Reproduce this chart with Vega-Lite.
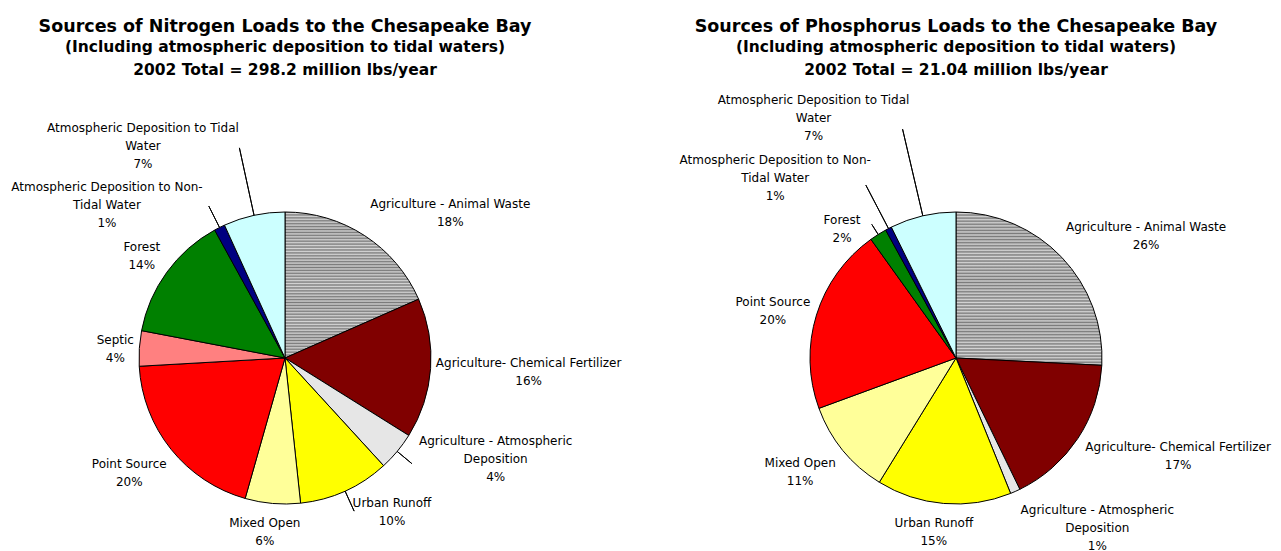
{
  "$schema": "https://vega.github.io/schema/vega-lite/v6.json",
  "background": "white",
  "padding": {"left": 5, "top": 18, "right": 5, "bottom": 5},
  "bounds": "flush",
  "spacing": 111,
  "datasets": {
    "nitrogen": [
      {"i": 1, "source": "Agriculture - Animal Waste", "pct": 18.4, "label": "Agriculture - Animal Waste\n18%"},
      {"i": 2, "source": "Agriculture- Chemical Fertilizer", "pct": 15.5, "label": "Agriculture- Chemical Fertilizer\n16%"},
      {"i": 3, "source": "Agriculture - Atmospheric Deposition", "pct": 4.3, "label": "Agriculture - Atmospheric\nDeposition\n4%"},
      {"i": 4, "source": "Urban Runoff", "pct": 10.1, "label": "Urban Runoff\n10%"},
      {"i": 5, "source": "Mixed Open", "pct": 6.1, "label": "Mixed Open\n6%"},
      {"i": 6, "source": "Point Source", "pct": 19.7, "label": "Point Source\n20%"},
      {"i": 7, "source": "Septic", "pct": 3.9, "label": "Septic\n4%"},
      {"i": 8, "source": "Forest", "pct": 14.0, "label": "Forest\n14%"},
      {"i": 9, "source": "Atmospheric Deposition to Non-Tidal Water", "pct": 1.2, "label": "Atmospheric Deposition to Non-\nTidal Water\n1%"},
      {"i": 10, "source": "Atmospheric Deposition to Tidal Water", "pct": 6.8, "label": "Atmospheric Deposition to Tidal\nWater\n7%"}
    ],
    "phosphorus": [
      {"i": 1, "source": "Agriculture - Animal Waste", "pct": 25.8, "label": "Agriculture - Animal Waste\n26%"},
      {"i": 2, "source": "Agriculture- Chemical Fertilizer", "pct": 17.0, "label": "Agriculture- Chemical Fertilizer\n17%"},
      {"i": 3, "source": "Agriculture - Atmospheric Deposition", "pct": 1.1, "label": "Agriculture - Atmospheric\nDeposition\n1%"},
      {"i": 4, "source": "Urban Runoff", "pct": 14.9, "label": "Urban Runoff\n15%"},
      {"i": 5, "source": "Mixed Open", "pct": 10.6, "label": "Mixed Open\n11%"},
      {"i": 6, "source": "Point Source", "pct": 20.7, "label": "Point Source\n20%"},
      {"i": 8, "source": "Forest", "pct": 1.9, "label": "Forest\n2%"},
      {"i": 9, "source": "Atmospheric Deposition to Non-Tidal Water", "pct": 0.7, "label": "Atmospheric Deposition to Non-\nTidal Water\n1%"},
      {"i": 10, "source": "Atmospheric Deposition to Tidal Water", "pct": 7.3, "label": "Atmospheric Deposition to Tidal\nWater\n7%"}
    ]
  },
  "config": {
    "view": {"stroke": null},
    "title": {
      "font": "DejaVu Sans", "fontWeight": "bold", "fontSize": 17.5, "color": "black",
      "subtitleFont": "DejaVu Sans", "subtitleFontWeight": "bold", "subtitleFontSize": 15.5, "subtitleColor": "black",
      "subtitleLineHeight": 23, "subtitlePadding": 4, "anchor": "middle", "offset": 10
    },
    "text": {"font": "DejaVu Sans", "fontSize": 12, "color": "black", "lineBreak": "\n", "lineHeight": 18, "align": "center", "baseline": "middle"}
  },
  "hconcat": [
    {
      "width": 560, "height": 540,
      "title": {"text": "Sources of Nitrogen Loads to the Chesapeake Bay", "subtitle": ["(Including atmospheric deposition to tidal waters)", "2002 Total = 298.2 million lbs/year"]},
      "data": {"name": "nitrogen"},
      "encoding": {
        "theta": {"field": "pct", "type": "quantitative", "stack": true},
        "order": {"field": "i", "type": "quantitative"}
      },
      "layer": [
        {
          "mark": {"type": "arc", "outerRadius": 146, "stroke": "black", "strokeWidth": 1},
          "encoding": {
            "fill": {
              "condition": {"test": "datum.i === 1", "value": {"gradient": "linear", "x1": 0, "y1": 0, "x2": 0, "y2": 1, "stops": [
                {"offset": 0.00, "color": "#7a7a7a"}, {"offset": 0.01, "color": "#d4d4d4"}, {"offset": 0.02, "color": "#7a7a7a"}, {"offset": 0.03, "color": "#d4d4d4"}, {"offset": 0.04, "color": "#7a7a7a"}, {"offset": 0.05, "color": "#d4d4d4"}, {"offset": 0.06, "color": "#7a7a7a"}, {"offset": 0.07, "color": "#d4d4d4"}, {"offset": 0.08, "color": "#7a7a7a"}, {"offset": 0.09, "color": "#d4d4d4"},
                {"offset": 0.10, "color": "#7a7a7a"}, {"offset": 0.11, "color": "#d4d4d4"}, {"offset": 0.12, "color": "#7a7a7a"}, {"offset": 0.13, "color": "#d4d4d4"}, {"offset": 0.14, "color": "#7a7a7a"}, {"offset": 0.15, "color": "#d4d4d4"}, {"offset": 0.16, "color": "#7a7a7a"}, {"offset": 0.17, "color": "#d4d4d4"}, {"offset": 0.18, "color": "#7a7a7a"}, {"offset": 0.19, "color": "#d4d4d4"},
                {"offset": 0.20, "color": "#7a7a7a"}, {"offset": 0.21, "color": "#d4d4d4"}, {"offset": 0.22, "color": "#7a7a7a"}, {"offset": 0.23, "color": "#d4d4d4"}, {"offset": 0.24, "color": "#7a7a7a"}, {"offset": 0.25, "color": "#d4d4d4"}, {"offset": 0.26, "color": "#7a7a7a"}, {"offset": 0.27, "color": "#d4d4d4"}, {"offset": 0.28, "color": "#7a7a7a"}, {"offset": 0.29, "color": "#d4d4d4"},
                {"offset": 0.30, "color": "#7a7a7a"}, {"offset": 0.31, "color": "#d4d4d4"}, {"offset": 0.32, "color": "#7a7a7a"}, {"offset": 0.33, "color": "#d4d4d4"}, {"offset": 0.34, "color": "#7a7a7a"}, {"offset": 0.35, "color": "#d4d4d4"}, {"offset": 0.36, "color": "#7a7a7a"}, {"offset": 0.37, "color": "#d4d4d4"}, {"offset": 0.38, "color": "#7a7a7a"}, {"offset": 0.39, "color": "#d4d4d4"},
                {"offset": 0.40, "color": "#7a7a7a"}, {"offset": 0.41, "color": "#d4d4d4"}, {"offset": 0.42, "color": "#7a7a7a"}, {"offset": 0.43, "color": "#d4d4d4"}, {"offset": 0.44, "color": "#7a7a7a"}, {"offset": 0.45, "color": "#d4d4d4"}, {"offset": 0.46, "color": "#7a7a7a"}, {"offset": 0.47, "color": "#d4d4d4"}, {"offset": 0.48, "color": "#7a7a7a"}, {"offset": 0.49, "color": "#d4d4d4"},
                {"offset": 0.50, "color": "#7a7a7a"}, {"offset": 0.51, "color": "#d4d4d4"}, {"offset": 0.52, "color": "#7a7a7a"}, {"offset": 0.53, "color": "#d4d4d4"}, {"offset": 0.54, "color": "#7a7a7a"}, {"offset": 0.55, "color": "#d4d4d4"}, {"offset": 0.56, "color": "#7a7a7a"}, {"offset": 0.57, "color": "#d4d4d4"}, {"offset": 0.58, "color": "#7a7a7a"}, {"offset": 0.59, "color": "#d4d4d4"},
                {"offset": 0.60, "color": "#7a7a7a"}, {"offset": 0.61, "color": "#d4d4d4"}, {"offset": 0.62, "color": "#7a7a7a"}, {"offset": 0.63, "color": "#d4d4d4"}, {"offset": 0.64, "color": "#7a7a7a"}, {"offset": 0.65, "color": "#d4d4d4"}, {"offset": 0.66, "color": "#7a7a7a"}, {"offset": 0.67, "color": "#d4d4d4"}, {"offset": 0.68, "color": "#7a7a7a"}, {"offset": 0.69, "color": "#d4d4d4"},
                {"offset": 0.70, "color": "#7a7a7a"}, {"offset": 0.71, "color": "#d4d4d4"}, {"offset": 0.72, "color": "#7a7a7a"}, {"offset": 0.73, "color": "#d4d4d4"}, {"offset": 0.74, "color": "#7a7a7a"}, {"offset": 0.75, "color": "#d4d4d4"}, {"offset": 0.76, "color": "#7a7a7a"}, {"offset": 0.77, "color": "#d4d4d4"}, {"offset": 0.78, "color": "#7a7a7a"}, {"offset": 0.79, "color": "#d4d4d4"},
                {"offset": 0.80, "color": "#7a7a7a"}, {"offset": 0.81, "color": "#d4d4d4"}, {"offset": 0.82, "color": "#7a7a7a"}, {"offset": 0.83, "color": "#d4d4d4"}, {"offset": 0.84, "color": "#7a7a7a"}, {"offset": 0.85, "color": "#d4d4d4"}, {"offset": 0.86, "color": "#7a7a7a"}, {"offset": 0.87, "color": "#d4d4d4"}, {"offset": 0.88, "color": "#7a7a7a"}, {"offset": 0.89, "color": "#d4d4d4"},
                {"offset": 0.90, "color": "#7a7a7a"}, {"offset": 0.91, "color": "#d4d4d4"}, {"offset": 0.92, "color": "#7a7a7a"}, {"offset": 0.93, "color": "#d4d4d4"}, {"offset": 0.94, "color": "#7a7a7a"}, {"offset": 0.95, "color": "#d4d4d4"}, {"offset": 0.96, "color": "#7a7a7a"}, {"offset": 0.97, "color": "#d4d4d4"}, {"offset": 0.98, "color": "#7a7a7a"}, {"offset": 0.99, "color": "#d4d4d4"},
                {"offset": 1.00, "color": "#7a7a7a"}
              ]}},
              "field": "source", "type": "nominal", "legend": null,
              "scale": {
                "domain": ["Agriculture - Animal Waste", "Agriculture- Chemical Fertilizer", "Agriculture - Atmospheric Deposition", "Urban Runoff", "Mixed Open", "Point Source", "Septic", "Forest", "Atmospheric Deposition to Non-Tidal Water", "Atmospheric Deposition to Tidal Water"],
                "range": ["#a6a6a6", "#800000", "#e6e6e6", "#ffff00", "#ffff99", "#ff0000", "#ff8080", "#008000", "#000080", "#ccffff"]
              }
            }
          }
        },
        {"mark": {"type": "arc", "padAngle": 3, "innerRadius": 146, "outerRadius": 165, "fillOpacity": 0, "stroke": "black", "strokeWidth": 1}, "encoding": {"strokeOpacity": {"condition": {"test": "datum.i === 3", "value": 1}, "value": 0}}},
        {"mark": {"type": "arc", "padAngle": 3, "innerRadius": 146, "outerRadius": 168, "fillOpacity": 0, "stroke": "black", "strokeWidth": 1}, "encoding": {"strokeOpacity": {"condition": {"test": "datum.i === 4", "value": 1}, "value": 0}}},
        {"mark": {"type": "arc", "padAngle": 3, "innerRadius": 146, "outerRadius": 170, "fillOpacity": 0, "stroke": "black", "strokeWidth": 1}, "encoding": {"strokeOpacity": {"condition": {"test": "datum.i === 9", "value": 1}, "value": 0}}},
        {"mark": {"type": "arc", "padAngle": 3, "innerRadius": 146, "outerRadius": 215, "fillOpacity": 0, "stroke": "black", "strokeWidth": 1}, "encoding": {"strokeOpacity": {"condition": {"test": "datum.i === 10", "value": 1}, "value": 0}}},
        {"mark": {"type": "text", "radius": 156, "dx": 80, "dy": -23}, "encoding": {"text": {"condition": {"test": "datum.i === 1", "field": "label", "type": "nominal"}, "value": ""}}},
        {"mark": {"type": "text", "radius": 156, "dx": 88, "dy": -6}, "encoding": {"text": {"condition": {"test": "datum.i === 2", "field": "label", "type": "nominal"}, "value": ""}}},
        {"mark": {"type": "text", "radius": 170, "dx": 80, "dy": -26}, "encoding": {"text": {"condition": {"test": "datum.i === 3", "field": "label", "type": "nominal"}, "value": ""}}},
        {"mark": {"type": "text", "radius": 170, "dx": 37, "dy": -10}, "encoding": {"text": {"condition": {"test": "datum.i === 4", "field": "label", "type": "nominal"}, "value": ""}}},
        {"mark": {"type": "text", "radius": 156, "dx": -7, "dy": 10}, "encoding": {"text": {"condition": {"test": "datum.i === 5", "field": "label", "type": "nominal"}, "value": ""}}},
        {"mark": {"type": "text", "radius": 156, "dx": -34, "dy": 8}, "encoding": {"text": {"condition": {"test": "datum.i === 6", "field": "label", "type": "nominal"}, "value": ""}}},
        {"mark": {"type": "text", "radius": 156, "dx": -14, "dy": -8}, "encoding": {"text": {"condition": {"test": "datum.i === 7", "field": "label", "type": "nominal"}, "value": ""}}},
        {"mark": {"type": "text", "radius": 156, "dx": -17, "dy": -19}, "encoding": {"text": {"condition": {"test": "datum.i === 8", "field": "label", "type": "nominal"}, "value": ""}}},
        {"mark": {"type": "text", "radius": 174, "dx": -100, "dy": -15}, "encoding": {"text": {"condition": {"test": "datum.i === 9", "field": "label", "type": "nominal"}, "value": ""}}},
        {"mark": {"type": "text", "radius": 170, "dx": -106, "dy": -64}, "encoding": {"text": {"condition": {"test": "datum.i === 10", "field": "label", "type": "nominal"}, "value": ""}}}
      ]
    },
    {
      "width": 560, "height": 540,
      "title": {"text": "Sources of Phosphorus Loads to the Chesapeake Bay", "subtitle": ["(Including atmospheric deposition to tidal waters)", "2002 Total = 21.04 million lbs/year"]},
      "data": {"name": "phosphorus"},
      "encoding": {
        "theta": {"field": "pct", "type": "quantitative", "stack": true},
        "order": {"field": "i", "type": "quantitative"}
      },
      "layer": [
        {
          "mark": {"type": "arc", "outerRadius": 146, "stroke": "black", "strokeWidth": 1},
          "encoding": {
            "fill": {
              "condition": {"test": "datum.i === 1", "value": {"gradient": "linear", "x1": 0, "y1": 0, "x2": 0, "y2": 1, "stops": [
                {"offset": 0.00, "color": "#7a7a7a"}, {"offset": 0.01, "color": "#d4d4d4"}, {"offset": 0.02, "color": "#7a7a7a"}, {"offset": 0.03, "color": "#d4d4d4"}, {"offset": 0.04, "color": "#7a7a7a"}, {"offset": 0.05, "color": "#d4d4d4"}, {"offset": 0.06, "color": "#7a7a7a"}, {"offset": 0.07, "color": "#d4d4d4"}, {"offset": 0.08, "color": "#7a7a7a"}, {"offset": 0.09, "color": "#d4d4d4"},
                {"offset": 0.10, "color": "#7a7a7a"}, {"offset": 0.11, "color": "#d4d4d4"}, {"offset": 0.12, "color": "#7a7a7a"}, {"offset": 0.13, "color": "#d4d4d4"}, {"offset": 0.14, "color": "#7a7a7a"}, {"offset": 0.15, "color": "#d4d4d4"}, {"offset": 0.16, "color": "#7a7a7a"}, {"offset": 0.17, "color": "#d4d4d4"}, {"offset": 0.18, "color": "#7a7a7a"}, {"offset": 0.19, "color": "#d4d4d4"},
                {"offset": 0.20, "color": "#7a7a7a"}, {"offset": 0.21, "color": "#d4d4d4"}, {"offset": 0.22, "color": "#7a7a7a"}, {"offset": 0.23, "color": "#d4d4d4"}, {"offset": 0.24, "color": "#7a7a7a"}, {"offset": 0.25, "color": "#d4d4d4"}, {"offset": 0.26, "color": "#7a7a7a"}, {"offset": 0.27, "color": "#d4d4d4"}, {"offset": 0.28, "color": "#7a7a7a"}, {"offset": 0.29, "color": "#d4d4d4"},
                {"offset": 0.30, "color": "#7a7a7a"}, {"offset": 0.31, "color": "#d4d4d4"}, {"offset": 0.32, "color": "#7a7a7a"}, {"offset": 0.33, "color": "#d4d4d4"}, {"offset": 0.34, "color": "#7a7a7a"}, {"offset": 0.35, "color": "#d4d4d4"}, {"offset": 0.36, "color": "#7a7a7a"}, {"offset": 0.37, "color": "#d4d4d4"}, {"offset": 0.38, "color": "#7a7a7a"}, {"offset": 0.39, "color": "#d4d4d4"},
                {"offset": 0.40, "color": "#7a7a7a"}, {"offset": 0.41, "color": "#d4d4d4"}, {"offset": 0.42, "color": "#7a7a7a"}, {"offset": 0.43, "color": "#d4d4d4"}, {"offset": 0.44, "color": "#7a7a7a"}, {"offset": 0.45, "color": "#d4d4d4"}, {"offset": 0.46, "color": "#7a7a7a"}, {"offset": 0.47, "color": "#d4d4d4"}, {"offset": 0.48, "color": "#7a7a7a"}, {"offset": 0.49, "color": "#d4d4d4"},
                {"offset": 0.50, "color": "#7a7a7a"}, {"offset": 0.51, "color": "#d4d4d4"}, {"offset": 0.52, "color": "#7a7a7a"}, {"offset": 0.53, "color": "#d4d4d4"}, {"offset": 0.54, "color": "#7a7a7a"}, {"offset": 0.55, "color": "#d4d4d4"}, {"offset": 0.56, "color": "#7a7a7a"}, {"offset": 0.57, "color": "#d4d4d4"}, {"offset": 0.58, "color": "#7a7a7a"}, {"offset": 0.59, "color": "#d4d4d4"},
                {"offset": 0.60, "color": "#7a7a7a"}, {"offset": 0.61, "color": "#d4d4d4"}, {"offset": 0.62, "color": "#7a7a7a"}, {"offset": 0.63, "color": "#d4d4d4"}, {"offset": 0.64, "color": "#7a7a7a"}, {"offset": 0.65, "color": "#d4d4d4"}, {"offset": 0.66, "color": "#7a7a7a"}, {"offset": 0.67, "color": "#d4d4d4"}, {"offset": 0.68, "color": "#7a7a7a"}, {"offset": 0.69, "color": "#d4d4d4"},
                {"offset": 0.70, "color": "#7a7a7a"}, {"offset": 0.71, "color": "#d4d4d4"}, {"offset": 0.72, "color": "#7a7a7a"}, {"offset": 0.73, "color": "#d4d4d4"}, {"offset": 0.74, "color": "#7a7a7a"}, {"offset": 0.75, "color": "#d4d4d4"}, {"offset": 0.76, "color": "#7a7a7a"}, {"offset": 0.77, "color": "#d4d4d4"}, {"offset": 0.78, "color": "#7a7a7a"}, {"offset": 0.79, "color": "#d4d4d4"},
                {"offset": 0.80, "color": "#7a7a7a"}, {"offset": 0.81, "color": "#d4d4d4"}, {"offset": 0.82, "color": "#7a7a7a"}, {"offset": 0.83, "color": "#d4d4d4"}, {"offset": 0.84, "color": "#7a7a7a"}, {"offset": 0.85, "color": "#d4d4d4"}, {"offset": 0.86, "color": "#7a7a7a"}, {"offset": 0.87, "color": "#d4d4d4"}, {"offset": 0.88, "color": "#7a7a7a"}, {"offset": 0.89, "color": "#d4d4d4"},
                {"offset": 0.90, "color": "#7a7a7a"}, {"offset": 0.91, "color": "#d4d4d4"}, {"offset": 0.92, "color": "#7a7a7a"}, {"offset": 0.93, "color": "#d4d4d4"}, {"offset": 0.94, "color": "#7a7a7a"}, {"offset": 0.95, "color": "#d4d4d4"}, {"offset": 0.96, "color": "#7a7a7a"}, {"offset": 0.97, "color": "#d4d4d4"}, {"offset": 0.98, "color": "#7a7a7a"}, {"offset": 0.99, "color": "#d4d4d4"},
                {"offset": 1.00, "color": "#7a7a7a"}
              ]}},
              "field": "source", "type": "nominal", "legend": null,
              "scale": {
                "domain": ["Agriculture - Animal Waste", "Agriculture- Chemical Fertilizer", "Agriculture - Atmospheric Deposition", "Urban Runoff", "Mixed Open", "Point Source", "Septic", "Forest", "Atmospheric Deposition to Non-Tidal Water", "Atmospheric Deposition to Tidal Water"],
                "range": ["#a6a6a6", "#800000", "#e0e0e0", "#ffff00", "#ffff99", "#ff0000", "#ff8080", "#008000", "#000080", "#ccffff"]
              }
            }
          }
        },
        {"mark": {"type": "arc", "padAngle": 3, "innerRadius": 146, "outerRadius": 158, "fillOpacity": 0, "stroke": "black", "strokeWidth": 1}, "encoding": {"strokeOpacity": {"condition": {"test": "datum.i === 8", "value": 1}, "value": 0}}},
        {"mark": {"type": "arc", "padAngle": 3, "innerRadius": 146, "outerRadius": 195, "fillOpacity": 0, "stroke": "black", "strokeWidth": 1}, "encoding": {"strokeOpacity": {"condition": {"test": "datum.i === 9", "value": 1}, "value": 0}}},
        {"mark": {"type": "arc", "padAngle": 3, "innerRadius": 146, "outerRadius": 235, "fillOpacity": 0, "stroke": "black", "strokeWidth": 1}, "encoding": {"strokeOpacity": {"condition": {"test": "datum.i === 10", "value": 1}, "value": 0}}},
        {"mark": {"type": "text", "radius": 156, "dx": 77, "dy": -23}, "encoding": {"text": {"condition": {"test": "datum.i === 1", "field": "label", "type": "nominal"}, "value": ""}}},
        {"mark": {"type": "text", "radius": 156, "dx": 92, "dy": 3}, "encoding": {"text": {"condition": {"test": "datum.i === 2", "field": "label", "type": "nominal"}, "value": ""}}},
        {"mark": {"type": "text", "radius": 156, "dx": 78, "dy": 9}, "encoding": {"text": {"condition": {"test": "datum.i === 3", "field": "label", "type": "nominal"}, "value": ""}}},
        {"mark": {"type": "text", "radius": 156, "dx": -9, "dy": 10}, "encoding": {"text": {"condition": {"test": "datum.i === 4", "field": "label", "type": "nominal"}, "value": ""}}},
        {"mark": {"type": "text", "radius": 156, "dx": -35, "dy": 6}, "encoding": {"text": {"condition": {"test": "datum.i === 5", "field": "label", "type": "nominal"}, "value": ""}}},
        {"mark": {"type": "text", "radius": 156, "dx": -34, "dy": -10}, "encoding": {"text": {"condition": {"test": "datum.i === 6", "field": "label", "type": "nominal"}, "value": ""}}},
        {"mark": {"type": "text", "radius": 165, "dx": -26, "dy": 2}, "encoding": {"text": {"condition": {"test": "datum.i === 8", "field": "label", "type": "nominal"}, "value": ""}}},
        {"mark": {"type": "text", "radius": 205, "dx": -86, "dy": -16}, "encoding": {"text": {"condition": {"test": "datum.i === 9", "field": "label", "type": "nominal"}, "value": ""}}},
        {"mark": {"type": "text", "radius": 200, "dx": -97, "dy": -63}, "encoding": {"text": {"condition": {"test": "datum.i === 10", "field": "label", "type": "nominal"}, "value": ""}}}
      ]
    }
  ]
}
